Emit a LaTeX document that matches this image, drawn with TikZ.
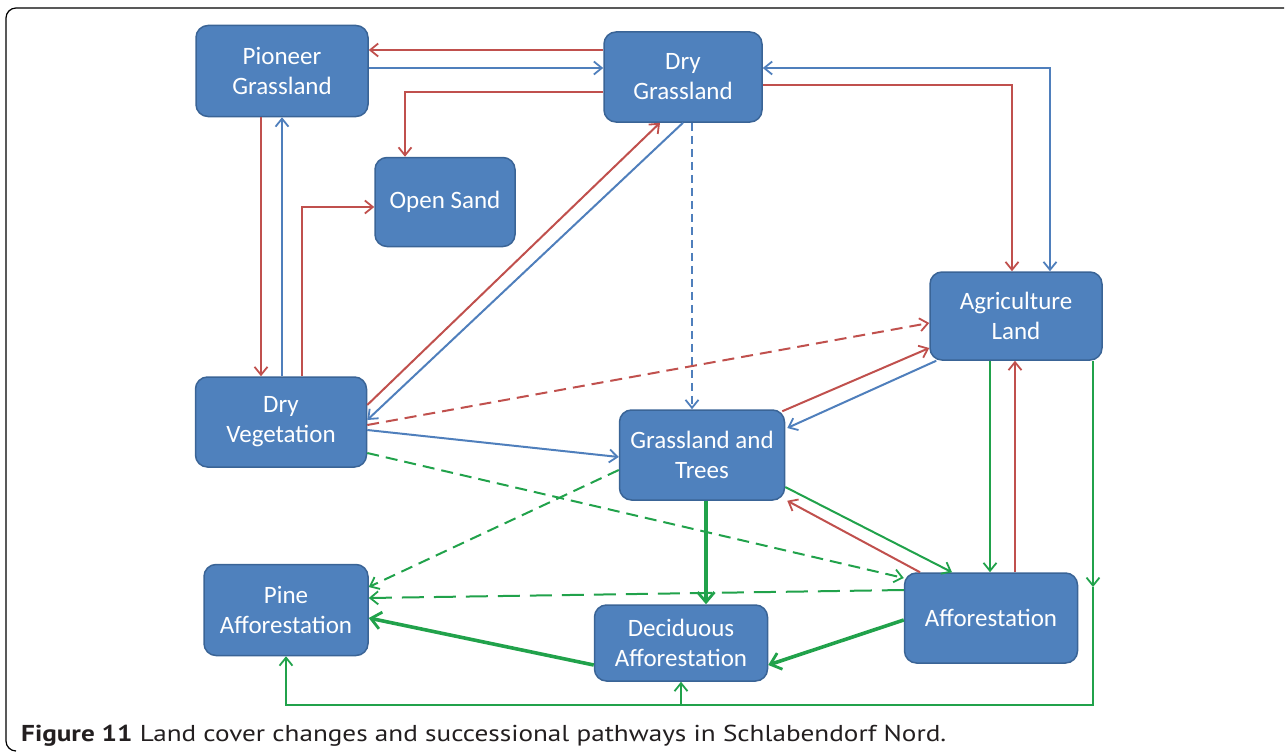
\documentclass[tikz,border=0pt]{standalone}
\usepackage{fontspec}
\setmainfont{Carlito}
\newfontfamily\capfont{PT Sans}
\usetikzlibrary{arrows.meta,calc}
\definecolor{boxfill}{HTML}{4F81BD}
\definecolor{boxline}{HTML}{3A6496}
\definecolor{cred}{HTML}{C0504D}
\definecolor{cblue}{HTML}{4F7FBC}
\definecolor{cgreen}{HTML}{21A24B}
\definecolor{captext}{HTML}{231F20}
\tikzset{
  lc/.style={draw=boxline,fill=boxfill,line width=1.5pt,rounded corners=12pt,
    text=white,align=center,font=\fontsize{25}{30}\selectfont,inner sep=0pt},
  tip/.style={-{Straight Barb[length=8pt,width=13pt,line width=1.8pt]}},
  tiptwo/.style={{Straight Barb[length=8pt,width=13pt,line width=1.8pt]}-{Straight Barb[length=8pt,width=13pt,line width=1.8pt]}},
  bigtip/.style={-{Straight Barb[length=10pt,width=17pt,line width=2.8pt]}},
  rl/.style={draw=cred,line width=2pt,tip},
  bl/.style={draw=cblue,line width=2pt,tip},
  gl/.style={draw=cgreen,line width=2pt,tip},
  gthick/.style={draw=cgreen,line width=3.6pt,bigtip},
  shortdash/.style={dash pattern=on 12pt off 7pt},
  tinydash/.style={dash pattern=on 8pt off 5pt},
  longdash/.style={dash pattern=on 22pt off 10pt},
}
\begin{document}
\begin{tikzpicture}[x=1pt,y=-1pt]
\useasboundingbox (0,0) rectangle (1287,752);
% frame
\draw[line width=1.2pt,rounded corners=10pt] (1284,8) -- (6,8) -- (6,751) -- (16,751);
% nodes
\node[lc,minimum width=172pt,minimum height=91pt] (pg) at (282,71) {Pioneer\\Grassland};
\node[lc,minimum width=158pt,minimum height=90pt] (dg) at (683,77) {Dry\\Grassland};
\node[lc,minimum width=140pt,minimum height=89pt] (os) at (445,202) {Open Sand};
\node[lc,minimum width=172pt,minimum height=88pt] (al) at (1016,316) {Agriculture\\Land};
\node[lc,minimum width=171pt,minimum height=90pt] (dv) at (281,422) {Dry\\Vegetation};
\node[lc,minimum width=165pt,minimum height=90pt] (gt) at (702,455) {Grassland and\\Trees};
\node[lc,minimum width=164pt,minimum height=91pt] (pa) at (286,610) {Pine\\Afforestation};
\node[lc,minimum width=173pt,minimum height=76pt] (da) at (681,643) {Deciduous\\Afforestation};
\node[lc,minimum width=173pt,minimum height=90pt] (af) at (991,618) {Afforestation};
% top connectors
\draw[rl] ([yshift=27pt]dg.west) -- ([yshift=27pt]dg.west -| pg.east);
\draw[bl] ([yshift=3pt]pg.east) -- ([yshift=3pt]pg.east -| dg.west);
\draw[rl] ([yshift=-15pt]dg.west) -| ([xshift=-40pt]os.north);
\draw[rl] ([xshift=-21pt]pg.south) -- ([xshift=-21pt]pg.south |- dv.north);
\draw[bl] ([xshift=1pt]dv.north) -- ([xshift=1pt]dv.north |- pg.south);
\draw[rl] ([xshift=21pt]dv.north) |- ([yshift=-5pt]os.west);
\draw[rl] ([yshift=17pt]dv.east) -- ([xshift=-23pt]dg.south);
\draw[bl] (dg.south) -- ([yshift=2pt]dv.east);
\draw[draw=cblue,line width=2pt,tiptwo] ([yshift=9pt]dg.east) -| ([xshift=34pt]al.north);
\draw[rl] ([yshift=-8pt]dg.east) -| ([xshift=-4pt]al.north);
\draw[bl,tinydash] ([xshift=9pt]dg.south) -- ([xshift=9pt]dg.south |- gt.north);
% middle connectors
\draw[rl,shortdash] ([yshift=-3pt]dv.east) -- ([yshift=-7pt]al.west);
\draw[bl] ([yshift=-8pt]dv.east) -- ([yshift=-2pt]gt.west);
\draw[gl,shortdash] ([yshift=-31pt]dv.east) -- ([yshift=40pt]af.west);
\draw[gl,shortdash] ([yshift=-15pt]gt.west) -- ([yshift=23pt]pa.east);
\draw[gl,longdash] ([yshift=28pt]af.west) -- ([yshift=12pt]pa.east);
\draw[rl] ([xshift=-3pt,yshift=-2pt]gt.north east) -- ([yshift=-32pt]al.west);
\draw[bl] ([xshift=7pt]al.south west) -- ([xshift=2pt,yshift=27pt]gt.east);
\draw[gl] ([yshift=-32pt]gt.east) -- ([xshift=-39pt]af.north);
\draw[rl] ([xshift=-71pt]af.north) -- ([xshift=2pt]gt.south east);
\draw[gl] ([xshift=-26pt]al.south) -- ([xshift=-26pt]al.south |- af.north);
\draw[rl] ([xshift=24pt]af.north) -- ([xshift=24pt]af.north |- al.south);
% thick green
\draw[gthick] ([xshift=4pt]gt.south) -- ([xshift=4pt]gt.south |- da.north);
\draw[gthick] ([yshift=-2pt]af.west) -- ([yshift=-22pt]da.east);
\draw[gthick] ([yshift=-22pt]da.west) -- ([yshift=-8pt]pa.east);
% bottom loop
\coordinate (mid) at (1093,587);
\coordinate (br) at (1093,705);
\draw[gl] ([xshift=77pt]al.south) -- (mid);
\draw[gl] (mid) -- (br) -| (pa.south);
\draw[gl] (br -| da.south) -- (da.south);
% caption
\node[anchor=base west,inner sep=0pt,text=captext,font=\capfont\fontsize{23}{27}\selectfont] (cap) at (21,741)
  {\resizebox{925pt}{\height}{\textbf{Figure 11} Land cover changes and successional pathways in Schlabendorf Nord.}};
\end{tikzpicture}
\end{document}
